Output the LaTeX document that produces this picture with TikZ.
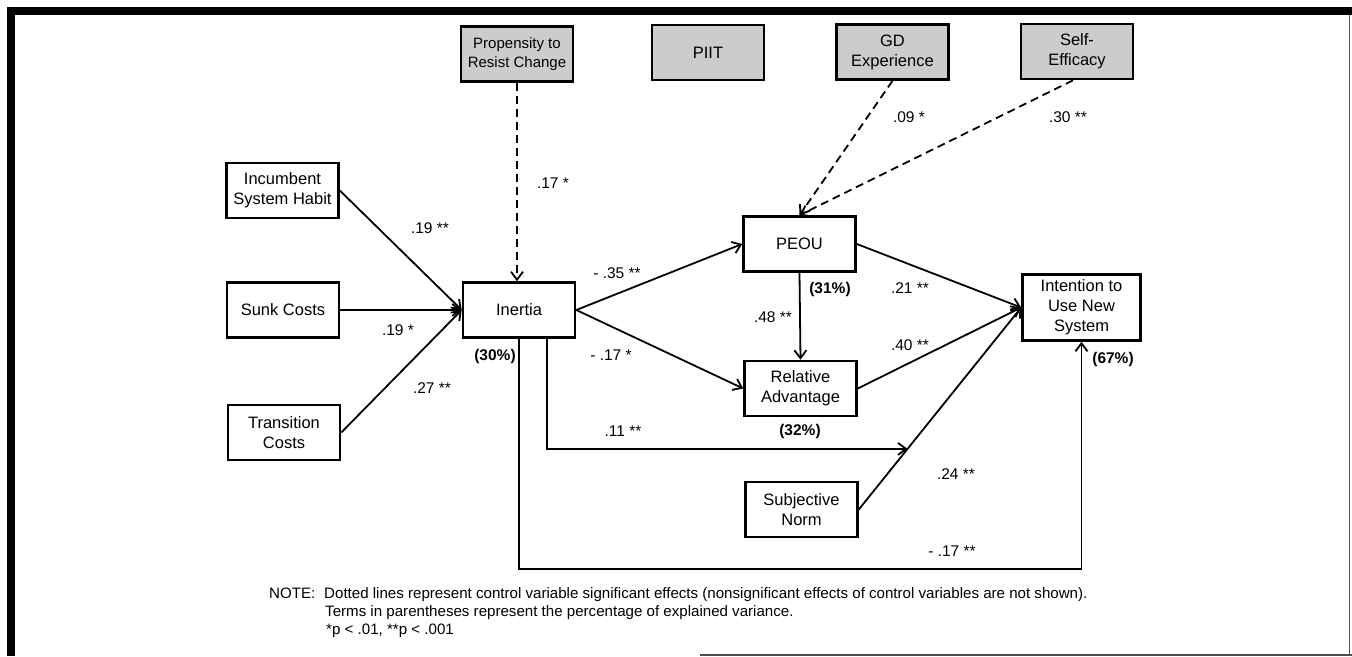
\documentclass[tikz,border=0pt]{standalone}
\usepackage{fontspec}
\setmainfont{Liberation Sans}
\usetikzlibrary{arrows.meta,calc}
\begin{document}
\begin{tikzpicture}[x=1pt,y=-1pt,
  box/.style={draw=black, line width=2.6pt, minimum width=112pt, minimum height=55pt, inner sep=0pt, align=center, font=\fontsize{16.5}{20}\selectfont},
  ctrl/.style={box, fill=gray!40},
  arr/.style={line width=1.8pt, -{Straight Barb[length=8pt,width=12pt,line width=1.8pt]}},
  darr/.style={arr, dash pattern=on 8pt off 5pt},
  lab/.style={font=\fontsize{15.5}{18}\selectfont, inner sep=0pt},
  pct/.style={font=\bfseries\fontsize{15.5}{18}\selectfont, inner sep=0pt},
  notetext/.style={font=\fontsize{15.1}{18}\selectfont, inner sep=0pt, anchor=base west}
]
\useasboundingbox (0,0) rectangle (1352,656);
\fill[white] (0,0) rectangle (1352,656);
% frame
\draw[line width=8pt] (11,656) -- (11,11) -- (1352,11);
\draw[black!65, line width=1.2pt] (1349.5,15) -- (1349.5,656);
\draw[black!70, line width=2pt] (700,654.5) -- (1352,654.5);

% nodes
\node[box] (inc) at (282.5,190.5) {Incumbent\\System Habit};
\node[box] (sunk) at (283,310) {Sunk Costs};
\node[box] (trans) at (284,432.5) {Transition\\Costs};
\node[box] (in) at (519,310) {Inertia};
\node[ctrl, font=\fontsize{15}{19}\selectfont] (prop) at (517,54) {Propensity to\\Resist Change};
\node[ctrl] (piit) at (708,52.5) {PIIT};
\node[ctrl] (gd) at (892.5,52) {GD\\Experience};
\node[ctrl] (se) at (1077,51.5) {Self-\\Efficacy};
\node[box] (peou) at (799.5,244) {PEOU};
\node[box] (ra) at (800.5,388.5) {Relative\\Advantage};
\node[box] (sn) at (801.5,509.5) {Subjective\\Norm};
\node[box, minimum width=118pt, minimum height=66pt] (int) at (1081.5,307.5) {Intention to\\Use New\\System};

% connectors
\draw[arr] (inc.east) -- (in.west);
\draw[arr] (sunk.east) -- (in.west);
\draw[arr] (trans.east) -- (in.west);
\draw[darr] (prop.south) -- (prop.south |- in.north);
\draw[darr] (gd.south) -- (peou.north);
\draw[darr] ([xshift=-4pt]se.south) -- (peou.north);
\draw[arr] (in.east) -- (peou.west);
\draw[arr] (in.east) -- (ra.west);
\draw[arr] (peou.south) -- (ra.north);
\draw[arr] (peou.east) -- (int.west);
\draw[arr] (ra.east) -- (int.west);
\draw[arr] (sn.east) -- (int.west);
\coordinate (j11) at ($(sn.east)!0.3!(int.west)$);
\draw[arr] ([xshift=28pt]in.south) |- (j11);
\draw[arr] (in.south) -- ++(0,230) -| (int.south);

% labels
\node[lab] (l1) at (430,228) {.19 **};
\node[lab] (l2) at (398,330) {.19 *};
\node[lab] (l3) at (432,388) {.27 **};
\node[lab] (l4) at (553,183) {.17 *};
\node[pct] (p1) at (495,356) {(30\%)};
\node[lab] (l5) at (909,117) {.09 *};
\node[lab] (l6) at (1068,117) {.30 **};
\node[lab] (l7) at (617,273) {- .35 **};
\node[lab] (l8) at (611,355) {- .17 *};
\node[pct] (p2) at (830,289) {(31\%)};
\node[lab] (l9) at (773,317) {.48 **};
\node[lab] (l10) at (910,288) {.21 **};
\node[lab] (l11) at (910,345) {.40 **};
\node[pct] (p3) at (800,431) {(32\%)};
\node[lab] (l12) at (623,431) {.11 **};
\node[lab] (l13) at (956,474) {.24 **};
\node[lab] (l14) at (952,551) {- .17 **};
\node[pct] (p4) at (1113,359) {(67\%)};

% note
\node[notetext] (n0) at (269,598) {NOTE:};
\node[notetext] (n1) at (324,598) {Dotted lines represent control variable significant effects (nonsignificant effects of control variables are not shown).};
\node[notetext] (n2) at (325,616) {Terms in parentheses represent the percentage of explained variance.};
\node[notetext] (n3) at (326,634) {*p < .01, **p < .001};
\end{tikzpicture}
\end{document}
